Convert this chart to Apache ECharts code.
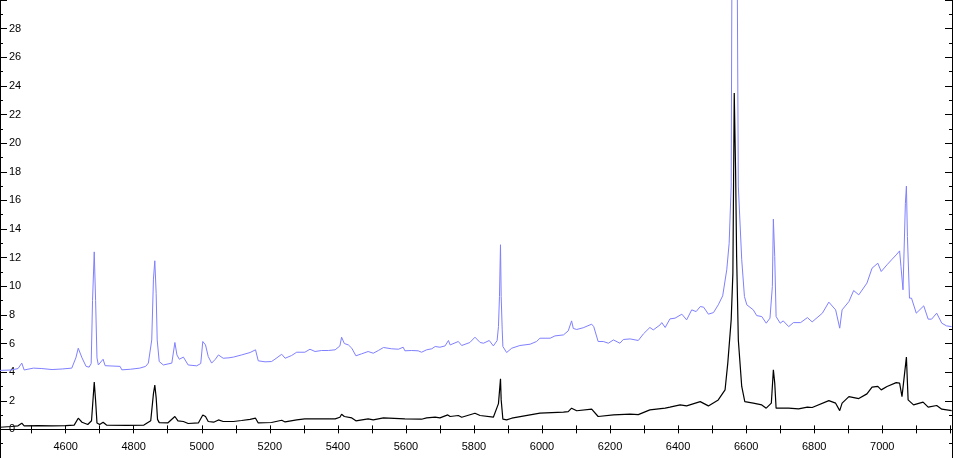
<!DOCTYPE html>
<html>
<head>
<meta charset="utf-8">
<script src="https://cdn.jsdelivr.net/npm/echarts@6/dist/echarts.min.js"></script>
<style>
html,body{margin:0;padding:0;background:#fff;}
#chart{width:953px;height:458px;}
</style>
</head>
<body>
<div id="chart"></div>
<script>
// Blue (upper) spectrum
const blueWave = [4407,4440,4460,4471,4478,4505,4530,4560,4590,4618,4630,4637,4648,4660,4669,4675,4679,4684,4688,4692,4696,4710,4716,4720,4760,4765,4790,4818,4835,4843,4853,4858,4862,4866,4869,4875,4887,4912,4921,4927,4934,4946,4960,4985,4997,5003,5011,5015,5019,5029,5040,5049,5063,5080,5093,5117,5142,5158,5166,5186,5205,5215,5235,5245,5264,5279,5303,5318,5333,5352,5372,5392,5406,5411,5416,5419,5431,5441,5453,5470,5489,5504,5519,5534,5558,5578,5592,5597,5617,5636,5646,5661,5676,5686,5700,5715,5725,5730,5754,5764,5788,5803,5818,5828,5845,5857,5868,5872,5875,5878,5880,5883,5885,5896,5911,5935,5965,5984,5994,6024,6038,6063,6077,6087,6092,6102,6121,6146,6152,6165,6180,6195,6210,6229,6239,6259,6283,6298,6317,6327,6347,6352,6362,6376,6391,6411,6425,6440,6453,6465,6475,6489,6504,6518,6531,6543,6550,6556,6558,6565,6574,6577,6587,6595,6602,6621,6631,6646,6659,6670,6677,6680,6684,6688,6700,6709,6725,6739,6760,6780,6794,6824,6843,6863,6875,6882,6902,6916,6931,6955,6970,6987,6997,7014,7029,7041,7051,7055,7061,7068,7071,7074,7080,7086,7100,7122,7135,7145,7160,7175,7189,7204];
const blueFlux = [4.12,4.15,4.25,4.63,4.15,4.28,4.25,4.18,4.22,4.28,5.0,5.67,5.0,4.4,4.35,4.6,9.0,12.4,9.0,5.0,4.5,4.9,4.45,4.39,4.4,4.16,4.2,4.28,4.4,4.63,6.25,10.5,11.78,9.5,6.25,4.74,4.5,4.63,6.07,5.2,4.9,5.05,4.5,4.44,4.6,6.14,5.9,5.8,5.09,4.63,4.9,5.2,4.97,5.0,5.05,5.2,5.37,5.56,4.79,4.72,4.74,4.9,5.25,4.97,5.16,5.39,5.39,5.6,5.44,5.51,5.51,5.56,5.83,6.44,6.44,6.0,5.9,5.67,5.14,5.28,5.44,5.32,5.51,5.72,5.63,5.6,5.74,5.49,5.51,5.49,5.39,5.56,5.63,5.79,5.74,5.83,6.21,5.9,6.14,5.86,6.07,6.44,6.07,6.02,6.21,5.83,6.2,7.18,9.28,12.9,9.28,7.0,5.79,5.37,5.67,5.86,5.95,6.14,6.37,6.37,6.53,6.6,6.88,7.58,7.05,6.98,7.1,7.35,7.18,6.14,6.14,6.02,6.25,6.02,6.28,6.32,6.21,6.67,7.12,6.95,7.3,7.46,7.12,7.72,7.77,8.05,7.65,8.35,8.23,8.58,8.54,8.05,8.16,8.7,9.33,11.15,13.0,17.0,31,57,31,17.0,11.85,9.28,8.7,8.35,7.95,7.88,7.42,7.77,9.98,14.69,12.08,7.88,7.42,7.58,7.18,7.46,7.46,7.81,7.51,8.12,8.89,8.35,7.07,8.35,8.93,9.7,9.4,10.22,11.26,11.61,11.03,11.5,11.89,12.19,12.47,11.38,9.75,15.8,17.0,13.47,9.17,9.17,8.12,8.63,7.7,7.7,8.12,7.42,7.23,7.18];

// Black (lower) spectrum
const blackWave = [4407,4440,4460,4471,4478,4520,4560,4600,4625,4637,4648,4665,4676,4684,4688,4692,4700,4710,4720,4780,4830,4850,4858,4862,4866,4870,4875,4900,4921,4930,4946,4960,4990,5003,5011,5019,5035,5049,5063,5093,5117,5142,5158,5166,5205,5235,5245,5279,5303,5392,5406,5411,5419,5441,5453,5489,5504,5534,5597,5646,5661,5686,5700,5723,5730,5754,5764,5803,5818,5857,5872,5878,5880,5885,5896,5911,5994,6063,6077,6087,6102,6146,6165,6210,6259,6283,6317,6362,6376,6406,6425,6465,6489,6518,6538,6546,6556,6561,6565,6569,6572,6577,6587,6596,6621,6646,6659,6674,6680,6684,6688,6725,6754,6780,6794,6843,6863,6875,6882,6902,6931,6955,6970,6987,6997,7014,7041,7051,7058,7062,7071,7076,7092,7120,7135,7160,7175,7204];
const blackFlux = [0.15,0.2,0.25,0.43,0.24,0.26,0.24,0.26,0.3,0.78,0.5,0.34,0.6,3.3,2.0,0.45,0.34,0.5,0.3,0.28,0.3,0.6,2.5,3.09,2.2,0.7,0.47,0.45,0.9,0.6,0.55,0.41,0.45,1.01,0.9,0.55,0.5,0.66,0.55,0.55,0.62,0.7,0.78,0.45,0.48,0.64,0.52,0.66,0.73,0.73,0.85,1.06,0.9,0.8,0.6,0.73,0.66,0.8,0.73,0.71,0.8,0.85,0.8,1.01,0.9,0.97,0.85,1.13,0.97,0.85,1.8,3.53,2.06,0.71,0.66,0.78,1.13,1.2,1.24,1.48,1.3,1.41,0.9,1.01,1.06,1.03,1.36,1.48,1.55,1.71,1.64,1.94,1.64,2.06,2.76,4.63,7.65,10.9,23.5,18,12.08,6.25,3.0,1.94,1.83,1.71,1.48,1.83,4.16,3.23,1.48,1.48,1.43,1.55,1.53,2.01,1.83,1.31,1.83,2.29,2.15,2.48,2.95,3.0,2.76,3.0,3.27,3.23,2.29,2.17,5.05,2.06,1.71,1.9,1.55,1.67,1.41,1.31];

// Axis ticks / labels
const xTickValues = [4500,4600,4700,4800,4900,5000,5100,5200,5300,5400,5500,5600,5700,5800,5900,6000,6100,6200,6300,6400,6500,6600,6700,6800,6900,7000,7100,7200];
const xTickLabels = [4600,4800,5000,5200,5400,5600,5800,6000,6200,6400,6600,6800,7000];

const X_MIN = 4407, X_MAX = 7205, Y_MIN = -2, Y_MAX = 30;
const fontFam = '"Liberation Sans", Arial, sans-serif';

function pairs(xs, ys){ return xs.map((x,i)=>[x, ys[i]]); }
const plain = v => String(Math.round(v));

const chart = echarts.init(document.getElementById('chart'), null, {renderer:'canvas'});
const axLine = {show:true, lineStyle:{color:'#000', width:1}};
chart.setOption({
  animation:false,
  backgroundColor:'#ffffff',
  grid:{left:0, right:1, top:0, bottom:0, containLabel:false},
  xAxis:[
    {type:'value', position:'bottom', min:X_MIN, max:X_MAX,
     axisLine:axLine,
     axisTick:{show:true, inside:true, length:4, customValues:xTickValues, lineStyle:{color:'#000'}},
     axisLabel:{show:true, inside:true, margin:6, customValues:xTickLabels, formatter:plain, color:'#000', fontSize:11, fontFamily:fontFam},
     splitLine:{show:false}},
    {type:'value', position:'top', min:X_MIN, max:X_MAX,
     axisLine:axLine,
     axisTick:{show:true, inside:true, length:4, customValues:xTickValues, lineStyle:{color:'#000'}},
     axisLabel:{show:false},
     splitLine:{show:false}}
  ],
  yAxis:[
    {type:'value', position:'left', min:Y_MIN, max:Y_MAX, interval:2,
     axisLine:axLine,
     axisTick:{show:true, inside:true, length:7, lineStyle:{color:'#000'}},
     minorTick:{show:true, splitNumber:2, length:3, lineStyle:{color:'#000'}},
     axisLabel:{show:true, inside:true, margin:9, formatter:plain, color:'#000', fontSize:11, fontFamily:fontFam, showMinLabel:false, showMaxLabel:false},
     splitLine:{show:false}},
    {type:'value', position:'right', min:Y_MIN, max:Y_MAX, interval:2,
     axisLine:axLine,
     axisTick:{show:true, inside:true, length:7, lineStyle:{color:'#000'}},
     minorTick:{show:true, splitNumber:2, length:3, lineStyle:{color:'#000'}},
     axisLabel:{show:false},
     splitLine:{show:false}}
  ],
  series:[
    {type:'line', name:'blue', data:pairs(blueWave, blueFlux), showSymbol:false, symbol:'none',
     lineStyle:{color:'#8080ff', width:1}, clip:true, z:2},
    {type:'line', name:'black', data:pairs(blackWave, blackFlux), showSymbol:false, symbol:'none',
     lineStyle:{color:'#000000', width:1.2}, clip:true, z:3}
  ]
});
</script>
</body>
</html>
